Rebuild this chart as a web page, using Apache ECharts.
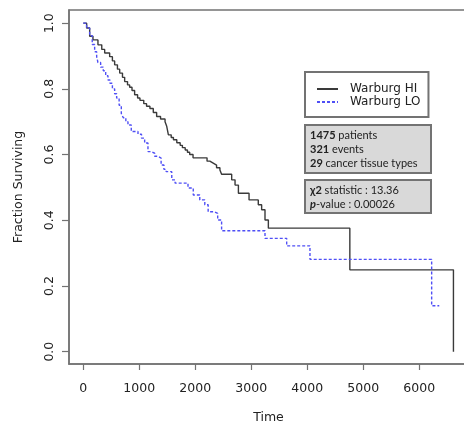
<!DOCTYPE html>
<html>
<head>
<meta charset="utf-8">
<script src="https://cdn.jsdelivr.net/npm/echarts@6.0.0/dist/echarts.min.js"></script>
<style>
html,body{margin:0;padding:0;background:#fff;}
#chart{width:464px;height:425px;}
</style>
</head>
<body>
<div id="chart"></div>
<script>
// Kaplan-Meier steps (time, fraction surviving after the drop)
var hiTime = [0,60,114,173,262,330,382,471,520,560,610,650,700,739,790,828,870,917,970,1012,1080,1130,1190,1250,1310,1380,1460,1490,1520,1570,1610,1670,1730,1770,1820,1860,1900,1960,2210,2260,2320,2380,2440,2470,2650,2710,2770,2960,3125,3185,3245,3305,4760,6610];
var hiSurv = [1.0,0.985,0.96,0.949,0.934,0.92,0.909,0.898,0.885,0.873,0.86,0.848,0.835,0.822,0.812,0.805,0.795,0.782,0.772,0.765,0.755,0.747,0.74,0.728,0.716,0.708,0.7,0.686,0.66,0.652,0.645,0.636,0.628,0.621,0.614,0.607,0.6,0.59,0.58,0.574,0.568,0.56,0.553,0.54,0.523,0.507,0.482,0.462,0.447,0.432,0.401,0.376,0.249,0.0];

var loTime = [0,60,114,160,203,239,262,310,357,400,441,477,520,560,596,640,679,714,760,798,857,977,1040,1096,1155,1210,1275,1330,1390,1440,1480,1580,1640,1870,1964,2080,2170,2230,2340,2400,2470,3245,3632,4048,6221,6357];
var loSurv = [1.0,0.985,0.962,0.935,0.913,0.898,0.88,0.866,0.855,0.84,0.827,0.817,0.8,0.785,0.772,0.75,0.725,0.712,0.7,0.69,0.67,0.662,0.65,0.635,0.609,0.604,0.595,0.589,0.568,0.555,0.548,0.523,0.513,0.498,0.477,0.462,0.447,0.426,0.421,0.401,0.368,0.345,0.322,0.281,0.14,0.14];

var xTicks = [0,1000,2000,3000,4000,5000,6000];
var yTicks = [0,0.2,0.4,0.6,0.8,1.0];
var seriesNames = ['Warburg HI','Warburg LO'];

var infoText = '{b|1475} patients\n{b|321} events\n{b|29} cancer tissue types';
var statText = '{b|\u03c72} statistic : 13.36\n{bi|p}-value : 0.00026';

function zip(xs, ys) {
    var out = [];
    xs.forEach(function(x, i) {
        out.push([x, ys[i]]);
    });
    return out;
}

var boxColor = '#737373';
var font = 'DejaVu Sans';

var myChart = echarts.init(document.getElementById('chart'));
var option = {
    animation: false,
    backgroundColor: '#fff',
    grid: {
        left: 69,
        top: 10,
        width: 399,
        height: 354,
        show: true,
        borderColor: boxColor,
        borderWidth: 1.5,
        outerBoundsMode: 'none'
    },
    legend: {
        orient: 'vertical',
        left: 305,
        top: 72,
        padding: [11, 8, 9, 11],
        itemGap: 1,
        itemWidth: 21,
        itemHeight: 14,
        backgroundColor: '#fff',
        borderColor: boxColor,
        borderWidth: 2,
        data: seriesNames,
        itemStyle: { opacity: 0 },
        textStyle: {
            fontFamily: font,
            fontSize: 12,
            color: '#222',
            padding: [0, 0, 0, 7]
        }
    },
    xAxis: {
        type: 'value',
        min: -255,
        max: 6870,
        name: 'Time',
        nameLocation: 'middle',
        nameGap: 47,
        nameTextStyle: { fontFamily: font, fontSize: 12.5, color: '#222' },
        splitLine: { show: false },
        axisLine: { show: true, onZero: false, lineStyle: { color: boxColor, width: 1.5 } },
        axisTick: {
            show: true,
            length: 6,
            customValues: xTicks,
            lineStyle: { color: boxColor, width: 1.2 }
        },
        axisLabel: {
            customValues: xTicks,
            margin: 18,
            fontFamily: font,
            fontSize: 12.5,
            color: '#222',
            formatter: function(v) { return String(v); }
        }
    },
    yAxis: {
        type: 'value',
        min: -0.0375,
        max: 1.04,
        name: 'Fraction Surviving',
        nameLocation: 'middle',
        nameGap: 44,
        nameTextStyle: { fontFamily: font, fontSize: 12.5, color: '#222' },
        splitLine: { show: false },
        axisLine: { show: true, onZero: false, lineStyle: { color: boxColor, width: 1.5 } },
        axisTick: {
            show: true,
            length: 7,
            customValues: yTicks,
            lineStyle: { color: boxColor, width: 1.2 }
        },
        axisLabel: {
            customValues: yTicks,
            rotate: 90,
            margin: 13,
            fontFamily: font,
            fontSize: 12.5,
            color: '#222',
            formatter: function(v) { return v.toFixed(1); }
        }
    },
    series: [{
        name: seriesNames[0],
        type: 'line',
        step: 'end',
        showSymbol: false,
        symbol: 'none',
        silent: true,
        data: zip(hiTime, hiSurv),
        lineStyle: { color: '#3a3a3a', width: 1.4 },
        itemStyle: { color: '#3a3a3a' }
    }, {
        name: seriesNames[1],
        type: 'line',
        step: 'end',
        showSymbol: false,
        symbol: 'none',
        silent: true,
        data: zip(loTime, loSurv),
        lineStyle: { color: '#4f4ff5', width: 1.4, type: [3, 2] },
        itemStyle: { color: '#4f4ff5' }
    }],
    graphic: [{
        type: 'rect',
        shape: { x: 305, y: 125, width: 126, height: 48 },
        style: { fill: '#d9d9d9', stroke: boxColor, lineWidth: 2 }
    }, {
        type: 'text',
        x: 310,
        y: 128,
        style: {
            text: infoText,
            fontFamily: 'Lato',
            fontSize: 11,
            lineHeight: 14.2,
            fill: '#222',
            rich: {
                b: { fontFamily: 'Lato', fontSize: 11, fontWeight: 'bold', lineHeight: 14.2, fill: '#222' }
            }
        }
    }, {
        type: 'rect',
        shape: { x: 305, y: 180, width: 126, height: 33 },
        style: { fill: '#d9d9d9', stroke: boxColor, lineWidth: 2 }
    }, {
        type: 'text',
        x: 310,
        y: 184,
        style: {
            text: statText,
            fontFamily: 'Lato',
            fontSize: 11,
            lineHeight: 13.5,
            fill: '#222',
            rich: {
                b: { fontFamily: 'Lato', fontSize: 11, fontWeight: 'bold', lineHeight: 13.5, fill: '#222' },
                bi: { fontFamily: 'Lato', fontSize: 11, fontWeight: 'bold', fontStyle: 'italic', lineHeight: 13.5, fill: '#222' }
            }
        }
    }]
};
myChart.setOption(option);
</script>
</body>
</html>
